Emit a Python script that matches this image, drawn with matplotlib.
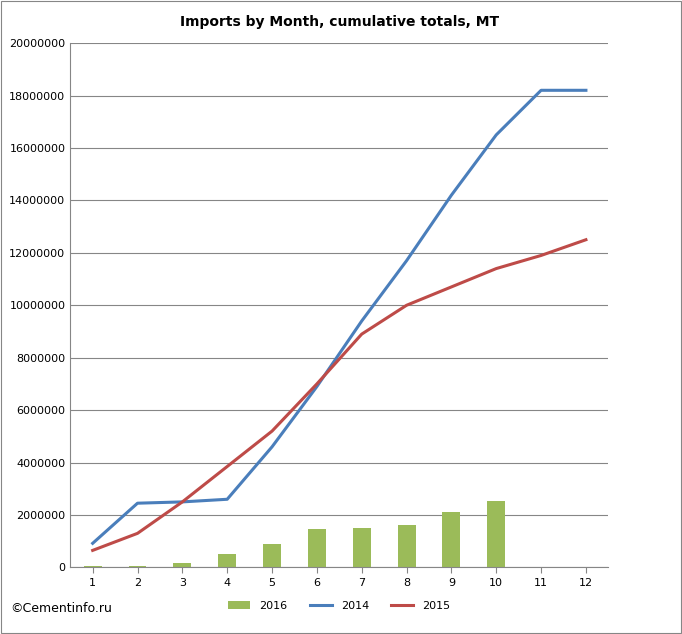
import matplotlib.pyplot as plt
import numpy as np

months = list(range(1, 13))
imp_2016 = [50000, 50000, 150000, 500000, 900000, 1450000, 1500000, 1600000, 2100000, 2550000, 0, 0]
imp_2014 = [920000, 2450000, 2500000, 2600000, 4600000, 6900000, 9400000, 11700000, 14200000, 16500000, 18200000, 18200000]
imp_2015 = [650000, 1300000, 2500000, 3850000, 5200000, 7000000, 8900000, 10000000, 10700000, 11400000, 11900000, 12500000]

fig = plt.figure(figsize=(6.82, 6.34), dpi=100)
ax = fig.add_axes([0.103, 0.105, 0.789, 0.827])
x = np.arange(len(months))
b = ax.bar(x, imp_2016, width=0.4, color='#9bbb59', label='2016', zorder=2)
l1, = ax.plot(x, imp_2014, color='#4a7ebb', lw=2.2, label='2014', zorder=3)
l2, = ax.plot(x, imp_2015, color='#be4b48', lw=2.2, label='2015', zorder=3)

ax.set_xlim(-0.5, 11.5)
ax.set_ylim(0, 20000000)
ax.set_yticks(range(0, 20000001, 2000000))
ax.set_yticklabels([str(v) for v in range(0, 20000001, 2000000)], fontsize=8)
ax.set_xticks(x)
ax.set_xticklabels([str(m) for m in months], fontsize=8)
ax.grid(axis='y', color='#868686', lw=0.8, zorder=0)
for s in ['top', 'right']:
    ax.spines[s].set_visible(False)
ax.spines['left'].set_color('#868686')
ax.spines['bottom'].set_color('#868686')
ax.tick_params(axis='y', length=0)
ax.tick_params(axis='x', length=4, color='#868686')
ax.set_title('Imports by Month, cumulative totals, MT', fontsize=10, fontweight='bold', pad=12)
ax.legend(handles=[b, l1, l2], loc='upper center', bbox_to_anchor=(0.5, -0.045), ncol=3,
          frameon=False, fontsize=8)
fig.text(0.015, 0.035, '©Cementinfo.ru', fontsize=9)
fig.patches.append(plt.Rectangle((0.002, 0.002), 0.996, 0.996, transform=fig.transFigure,
                                 fill=False, ec='#868686', lw=0.8))
fig.savefig('out.png')
